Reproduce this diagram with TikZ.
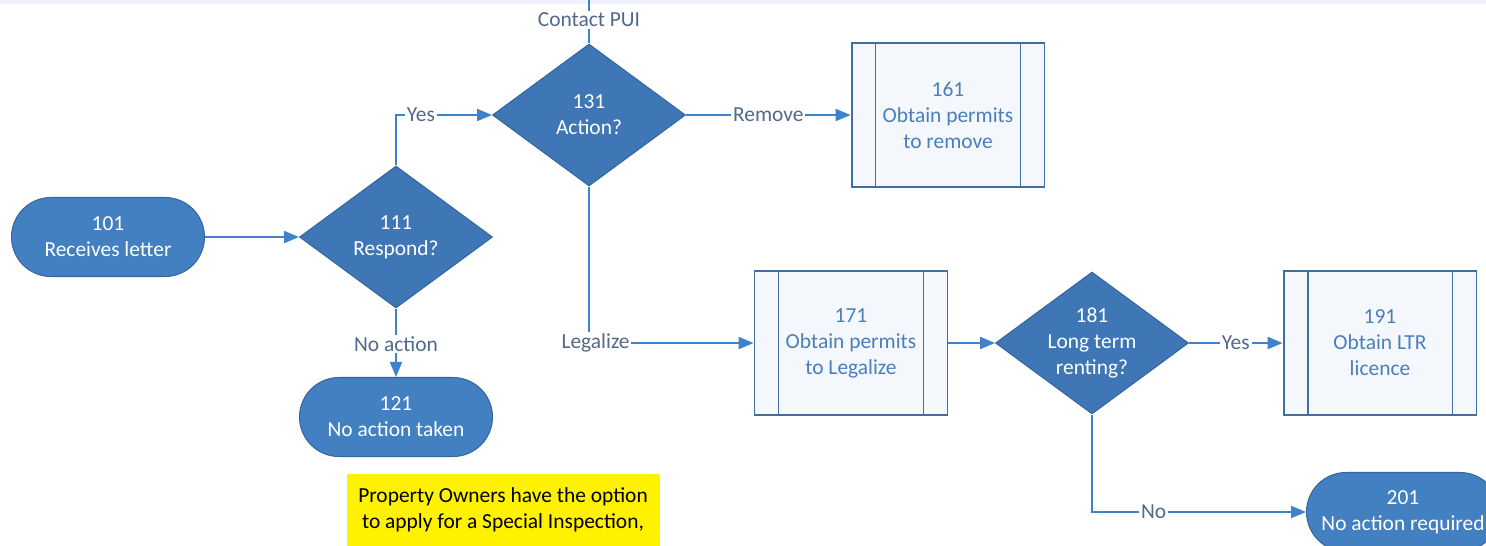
\documentclass[tikz,border=0pt]{standalone}
\usepackage{fontspec}
\setmainfont{Carlito}
\usetikzlibrary{shapes.geometric,arrows.meta}
\definecolor{pillblue}{HTML}{4380C2}
\definecolor{diablue}{HTML}{3E76B6}
\definecolor{shapeedge}{HTML}{35679E}
\definecolor{lineblue}{HTML}{3F82CC}
\definecolor{boxedge}{HTML}{41709E}
\definecolor{boxfill}{HTML}{F4F8FC}
\definecolor{boxtext}{HTML}{4A7EBC}
\definecolor{lbltext}{HTML}{51698A}
\begin{document}
\begin{tikzpicture}[
  x=0.02cm, y=-0.02cm,
  every node/.style={font=\fontsize{12.2}{14.8}\selectfont, align=center},
  terminal/.style={rectangle, rounded corners=0.79cm, draw=shapeedge, fill=pillblue, text=white,
    line width=0.6pt, minimum width=3.86cm, minimum height=1.58cm},
  decision/.style={diamond, aspect=1.36, draw=shapeedge, fill=diablue, text=white,
    line width=0.6pt, minimum width=3.86cm, minimum height=2.84cm, inner sep=0pt},
  subproc/.style={rectangle, draw=boxedge, fill=boxfill, text=boxtext, line width=1.1pt,
    minimum width=3.86cm, minimum height=2.88cm,
    path picture={\draw[boxedge, line width=1.1pt]
      ([xshift=0.48cm]path picture bounding box.north west) -- ([xshift=0.48cm]path picture bounding box.south west)
      ([xshift=-0.48cm]path picture bounding box.north east) -- ([xshift=-0.48cm]path picture bounding box.south east);}},
  flow/.style={draw=lineblue, line width=1.2pt, -{Triangle[length=0.3cm,width=0.24cm]}},
  plain/.style={draw=lineblue, line width=1.2pt},
  lbl/.style={fill=white, text=lbltext, inner sep=1pt},
  note/.style={text=black, inner sep=0pt}
]
  \useasboundingbox (0,0) rectangle (1486,545);
  \clip (0,0) rectangle (1486,545);
  \fill[blue!5] (0,0) rectangle (1486,4);
  \fill[yellow] (347,474) rectangle (660,560);

  \node[terminal] (n101) at (108,237) {101\\Receives letter};
  \node[decision] (n111) at (396,237) {111\\Respond?};
  \node[terminal] (n121) at (396,417) {121\\No action taken};
  \node[decision] (n131) at (589,115) {131\\Action?};
  \node[subproc] (n161) at (948,115) {161\\Obtain permits\\to remove};
  \node[subproc] (n171) at (851,343) {171\\Obtain permits\\to Legalize};
  \node[decision] (n181) at (1092,343) {181\\Long term\\renting?};
  \node[subproc] (n191) at (1380,343) {191\\Obtain LTR\\licence};
  \node[terminal] (n201) at (1403,512) {201\\No action required};
  \coordinate (top) at (589,-10);
  \node[note] (n301) at (503,510) {Property Owners have the option\\to apply for a Special Inspection,};

  \draw[flow] (n101) -- (n111);
  \draw[flow] (n111.north) |- node[lbl, pos=0.63] {Yes} (n131.west);
  \draw[flow] (n111.south) -- node[lbl, pos=0.52] {No action} (n121.north);
  \draw[plain] (n131.north) -- node[lbl, pos=0.44] {Contact PUI} (top);
  \draw[flow] (n131.east) -- node[lbl] {Remove} (n161.west);
  \draw[flow] (n131.south) |- node[lbl, pos=0.52] {Legalize} (n171.west);
  \draw[flow] (n171) -- (n181);
  \draw[flow] (n181.east) -- node[lbl] {Yes} (n191.west);
  \draw[flow] (n181.south) |- node[lbl, pos=0.644] {No} (n201.west);
\end{tikzpicture}
\end{document}
